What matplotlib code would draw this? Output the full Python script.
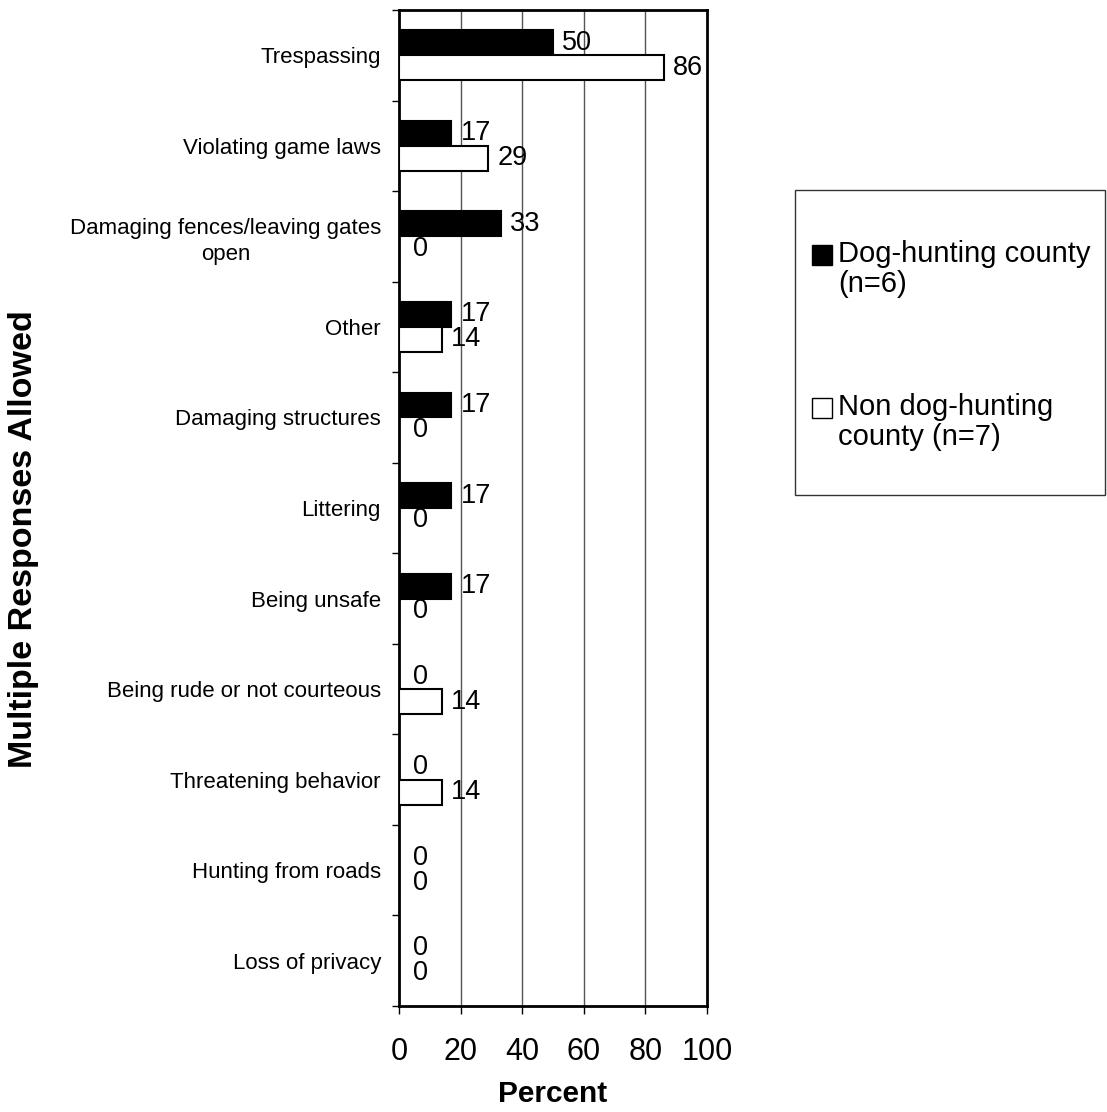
import matplotlib
matplotlib.use("Agg")
import matplotlib.pyplot as plt
from matplotlib.patches import Rectangle
import numpy as np

plt.rcParams['font.family'] = ['Liberation Sans', 'DejaVu Sans']

categories = ["Trespassing", "Violating game laws", "Damaging fences/leaving gates\nopen",
              "Other", "Damaging structures", "Littering", "Being unsafe",
              "Being rude or not courteous", "Threatening behavior",
              "Hunting from roads", "Loss of privacy"]
dog = [50, 17, 33, 17, 17, 17, 17, 0, 0, 0, 0]
nondog = [86, 29, 0, 14, 0, 0, 0, 14, 14, 0, 0]
series_labels = ["Dog-hunting county\n(n=6)", "Non dog-hunting\ncounty (n=7)"]
xticks = [0, 20, 40, 60, 80, 100]

W, H = 1107, 1112
fig = plt.figure(figsize=(W / 100, H / 100), dpi=100)
ax = fig.add_axes([399 / W, 1 - 1006 / H, 308 / W, 996 / H])

n = len(categories)
y = np.arange(n)
h = 0.275
ax.barh(y - h / 2, dog, height=h, color="black", edgecolor="black", linewidth=1.5, zorder=3)
ax.barh(y + h / 2, nondog, height=h, color="white", edgecolor="black", linewidth=1.5, zorder=3)

for yi, v in zip(y, dog):
    ax.annotate(str(v), (v, yi - h / 2), xytext=(6.5 if v else 10, 0), textcoords="offset points",
                va="center", ha="left", fontsize=19.5)
for yi, v in zip(y, nondog):
    ax.annotate(str(v), (v, yi + h / 2), xytext=(6.5 if v else 10, 0), textcoords="offset points",
                va="center", ha="left", fontsize=19.5)

ax.set_xlim(0, 100)
ax.set_ylim(n - 0.5, -0.5)
ax.set_xticks(xticks)
ax.set_xticklabels([str(t) for t in xticks], fontsize=22)
ax.tick_params(axis="x", length=6, width=1, pad=16)
ax.set_yticks(y)
ax.set_yticklabels(categories, fontsize=16, ha="right", multialignment="center", linespacing=1.3)
ax.tick_params(axis="y", which="major", length=0, pad=13)
ax.set_yticks(np.arange(-0.5, n, 1.0), minor=True)
ax.tick_params(axis="y", which="minor", length=5, width=1)
for t in xticks[1:-1]:
    ax.axvline(t, color="#555555", linewidth=1, zorder=1)
for s in ax.spines.values():
    s.set_linewidth(2)
    s.set_color("black")

ax.set_xlabel("Percent", fontsize=21.5, fontweight="bold", labelpad=10)
fig.text(24 / W, 1 - 539 / H, "Multiple Responses Allowed", rotation=90, fontsize=24.5,
         fontweight="bold", ha="center", va="center")

# legend (manual box)
fig.patches.append(Rectangle((795 / W, 1 - 495 / H), 310 / W, 305 / H, transform=fig.transFigure,
                             facecolor="white", edgecolor="#333333", linewidth=1))
sq = 20
for (top_px, face, label) in [(245, "black", series_labels[0]), (398, "white", series_labels[1])]:
    fig.patches.append(Rectangle((812 / W, 1 - (top_px + sq) / H), sq / W, sq / H,
                                 transform=fig.transFigure, facecolor=face,
                                 edgecolor="black", linewidth=1))
    fig.text(838 / W, 1 - (top_px - 5) / H, label, fontsize=21, ha="left", va="top",
             linespacing=1.1)

fig.savefig("out.png", dpi=100)
